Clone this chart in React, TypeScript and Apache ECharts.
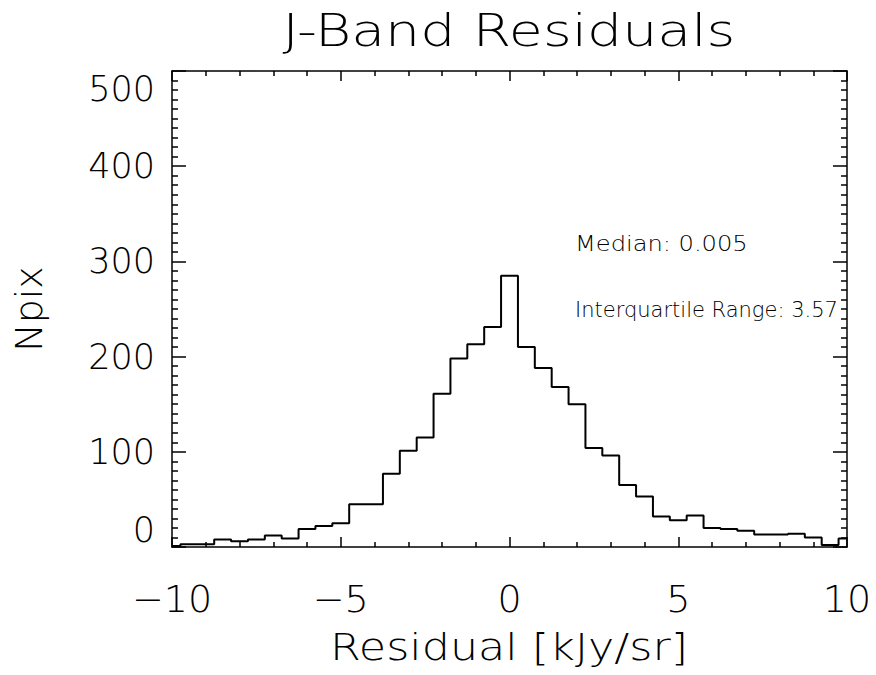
import React, { useEffect, useRef } from "react";
import * as echarts from "echarts";

const residualCenters = [
  -10, -9.5, -9, -8.5, -8, -7.5, -7, -6.5, -6, -5.5, -5, -4.5, -4, -3.5, -3, -2.5, -2, -1.5, -1, -0.5,
  0, 0.5, 1, 1.5, 2, 2.5, 3, 3.5, 4, 4.5, 5, 5.5, 6, 6.5, 7, 7.5, 8, 8.5, 9, 9.5, 10,
];
const npixCounts = [
  1, 3, 3, 8, 6, 8, 12, 9, 19, 22, 25, 45, 45, 77, 101, 115, 161, 198, 213, 231,
  285, 210, 188, 168, 150, 104, 96, 65, 53, 32, 28, 33, 20, 19, 17, 13, 13, 14, 10, 2, 9,
];
const titleText = "J-Band Residuals";
const xAxisTitle = "Residual [kJy/sr]";
const yAxisTitle = "Npix";
const statLines = ["Median: 0.005", "Interquartile Range: 3.57"];

const FONT = "'DejaVu Sans', sans-serif";
const W = 200;

export default function App() {
  const ref = useRef<HTMLDivElement>(null);
  useEffect(() => {
    if (!ref.current) return;
    const chart = echarts.init(ref.current, undefined, { renderer: "svg" });
    const data = residualCenters.map((x, i) => [x, npixCounts[i]]);
    const axisLine = { show: true, onZero: false, lineStyle: { color: "#000", width: 1.5 } };
    const tickStyle = { color: "#000", width: 1.5 };
    chart.setOption({
      animation: false,
      backgroundColor: "#fff",
      textStyle: { fontFamily: FONT, fontWeight: W },
      grid: {
        left: 172,
        right: 29,
        top: 71,
        bottom: 128,
        containLabel: false,
        outerBoundsMode: "none",
      },
      xAxis: [
        {
          type: "value",
          min: -10,
          max: 10,
          interval: 5,
          position: "bottom",
          axisLine,
          axisTick: { show: true, inside: true, length: 10, lineStyle: tickStyle },
          minorTick: { show: true, splitNumber: 5, length: 5, lineStyle: tickStyle },
          splitLine: { show: false },
          axisLabel: {
            margin: 33,
            fontSize: 38,
            fontWeight: W,
            fontFamily: FONT,
            color: "#000",
            formatter: (v: number) => String(v).replace("-", "\u2212"),
          },
        },
        {
          type: "value",
          min: -10,
          max: 10,
          interval: 5,
          position: "top",
          axisLine,
          axisTick: { show: true, inside: true, length: 10, lineStyle: tickStyle },
          minorTick: { show: true, splitNumber: 5, length: 5, lineStyle: tickStyle },
          splitLine: { show: false },
          axisLabel: { show: false },
        },
      ],
      yAxis: [
        {
          type: "value",
          min: 0,
          max: 500,
          interval: 100,
          position: "left",
          axisLine,
          axisTick: { show: true, inside: true, length: 14, lineStyle: tickStyle },
          minorTick: { show: true, splitNumber: 10, length: 6, lineStyle: tickStyle },
          splitLine: { show: false },
          axisLabel: {
            margin: 17,
            fontSize: 35,
            fontWeight: W,
            fontFamily: FONT,
            color: "#000",
            verticalAlignMinLabel: "bottom",
            verticalAlignMaxLabel: "top",
          },
          name: yAxisTitle,
          nameLocation: "middle",
          nameGap: 124,
          nameRotate: 90,
          nameTextStyle: { fontSize: 38, fontWeight: W, fontFamily: FONT, color: "#000" },
        },
        {
          type: "value",
          min: 0,
          max: 500,
          interval: 100,
          position: "right",
          axisLine,
          axisTick: { show: true, inside: true, length: 14, lineStyle: tickStyle },
          minorTick: { show: true, splitNumber: 10, length: 6, lineStyle: tickStyle },
          splitLine: { show: false },
          axisLabel: { show: false },
        },
      ],
      graphic: [
        {
          type: "text",
          x: 509,
          y: 30,
          scaleX: 1.23,
          style: {
            text: titleText,
            fontSize: 45,
            fontWeight: W,
            fontFamily: FONT,
            fill: "#000",
            textAlign: "center",
            textVerticalAlign: "middle",
          },
        },
        {
          type: "text",
          x: 509,
          y: 647,
          scaleX: 1.17,
          style: {
            text: xAxisTitle,
            fontSize: 38,
            fontWeight: W,
            fontFamily: FONT,
            fill: "#000",
            textAlign: "center",
            textVerticalAlign: "middle",
          },
        },
        {
          type: "text",
          x: 575,
          y: 244,
          scaleX: 1.15,
          style: {
            text: statLines[0],
            fontSize: 21,
            fontWeight: W,
            fontFamily: FONT,
            fill: "#000",
            textAlign: "left",
            textVerticalAlign: "middle",
          },
        },
        {
          type: "text",
          x: 575,
          y: 310,
          style: {
            text: statLines[1],
            fontSize: 21,
            fontWeight: W,
            fontFamily: FONT,
            fill: "#000",
            textAlign: "left",
            textVerticalAlign: "middle",
          },
        },
      ],
      series: [
        {
          type: "line",
          step: "middle",
          data,
          xAxisIndex: 0,
          yAxisIndex: 0,
          showSymbol: false,
          symbol: "none",
          lineStyle: { color: "#000", width: 2 },
          z: 5,
        },
      ],
    });
    return () => chart.dispose();
  }, []);
  return (
    <div
      ref={ref}
      style={{ position: "fixed", left: 0, top: 0, width: 876, height: 675, background: "#fff" }}
    />
  );
}
